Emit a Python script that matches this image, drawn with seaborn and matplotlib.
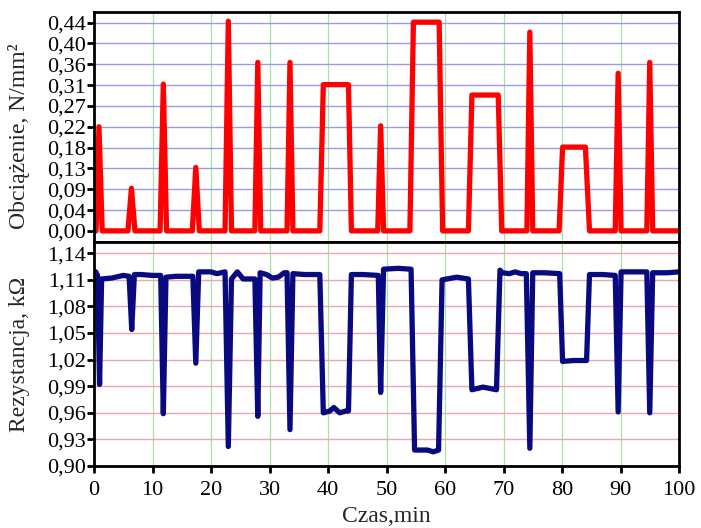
import numpy as np
import pandas as pd
import matplotlib
matplotlib.use("Agg")
import matplotlib.pyplot as plt
import seaborn as sns

# ---- data ----
t_load = [0, 0.35, 0.85, 1.4, 5.8, 6.4, 7.0, 11.3, 11.85, 12.4, 16.8, 17.4, 18.0,
          22.4, 22.96, 23.5, 27.5, 28.0, 28.5, 33.0, 33.5, 34.0, 38.6, 39.2, 43.5,
          44.0, 48.5, 49.0, 49.5, 54.0, 54.6, 59.0, 59.6, 64.0, 64.6, 69.1, 69.7,
          74.0, 74.5, 75.0, 79.5, 80.1, 84.0, 84.7, 89.1, 89.6, 90.1, 94.5, 95.0,
          95.5, 100]
load = [0, 0, 0.22, 0, 0, 0.09, 0, 0, 0.31, 0, 0, 0.134, 0,
        0, 0.443, 0, 0, 0.356, 0, 0, 0.356, 0, 0, 0.309, 0.309,
        0, 0, 0.222, 0, 0, 0.441, 0.441, 0, 0, 0.287, 0.287, 0,
        0, 0.42, 0, 0, 0.177, 0.177, 0, 0, 0.333, 0, 0, 0.356,
        0, 0]

t_res = [0.3, 0.6, 0.95, 1.3, 3, 5, 6.0, 6.45, 6.9, 8, 10, 11.4, 11.85, 12.3, 14,
         16.9, 17.4, 17.9, 20, 21, 22.4, 22.96, 23.5, 24.5, 25.5, 27.5, 28.0, 28.4,
         29.5, 30.5, 31.5, 32.5, 33.0, 33.5, 34.0, 36, 38.6, 39.2, 40.3, 41.0, 42.0,
         43.0, 43.5, 44.0, 46, 48.6, 49.0, 49.5, 52, 54.2, 54.8, 57, 58.0, 58.9,
         59.5, 62.0, 64.0, 64.6, 66.5, 68.8, 69.4, 69.8, 71, 72.0, 73.0, 73.9, 74.5,
         75.0, 77, 79.6, 80.1, 82, 84.2, 84.7, 87, 89.1, 89.6, 90.1, 92, 94.5, 95.0,
         95.5, 98, 100]
res = [1.119, 1.115, 0.992, 1.111, 1.112, 1.115, 1.114, 1.054, 1.116, 1.116, 1.115,
       1.115, 0.959, 1.113, 1.114, 1.114, 1.016, 1.119, 1.119, 1.117, 1.119, 0.922,
       1.111, 1.119, 1.111, 1.111, 0.956, 1.118, 1.116, 1.112, 1.113, 1.118, 1.118,
       0.941, 1.117, 1.116, 1.116, 0.960, 0.962, 0.966, 0.960, 0.962, 0.962, 1.116,
       1.116, 1.115, 0.983, 1.122, 1.123, 1.122, 0.918, 0.918, 0.916, 0.918, 1.110,
       1.113, 1.111, 0.986, 0.989, 0.986, 1.121, 1.118, 1.117, 1.119, 1.117, 1.117,
       0.920, 1.118, 1.118, 1.117, 1.018, 1.019, 1.019, 1.116, 1.116, 1.115, 0.961,
       1.119, 1.119, 1.119, 0.960, 1.118, 1.118, 1.119]

load_ticks = [0.0, 0.044, 0.088, 0.132, 0.176, 0.22, 0.264, 0.308, 0.352, 0.396, 0.44]
load_labels = ["0,00", "0,04", "0,09", "0,13", "0,18", "0,22", "0,27", "0,31",
               "0,36", "0,40", "0,44"]
res_ticks = [0.90, 0.93, 0.96, 0.99, 1.02, 1.05, 1.08, 1.11, 1.14]
res_labels = ["0,90", "0,93", "0,96", "0,99", "1,02", "1,05", "1,08", "1,11", "1,14"]
x_ticks = [0, 10, 20, 30, 40, 50, 60, 70, 80, 90, 100]

df_load = pd.DataFrame({"t": t_load, "v": load})
df_res = pd.DataFrame({"t": t_res, "v": res})

sns.set_theme(style="ticks")
plt.rcParams["font.family"] = ["Liberation Serif", "DejaVu Serif"]
plt.rcParams["axes.linewidth"] = 2.0

fig = plt.figure(figsize=(7.01, 5.28), dpi=100)
W, H = 701, 528
L, R = 94, 679
ax1 = fig.add_axes([L / W, 1 - 242 / H, (R - L) / W, (242 - 12) / H])
ax2 = fig.add_axes([L / W, 1 - 466 / H, (R - L) / W, (466 - 242) / H])

sns.lineplot(data=df_load, x="t", y="v", ax=ax1, color="#ff0000", linewidth=3.8,
             sort=False, estimator=None)
sns.lineplot(data=df_res, x="t", y="v", ax=ax2, color="#0a0a80", linewidth=3.8,
             sort=False, estimator=None)

for ax in (ax1, ax2):
    ax.set_xlim(0, 100)
    ax.set_xticks(x_ticks)
    for x in x_ticks[1:-1]:
        ax.axvline(x, color="#a8e0a8", linewidth=0.9, zorder=0)
    for s in ax.spines.values():
        s.set_color("black")
        s.set_linewidth(2.0)
    ax.tick_params(axis="both", direction="out", length=5, width=2, labelsize=16,
                   colors="black", pad=1)

ax1.set_ylim(-0.0235, 0.4625)
ax1.set_yticks(load_ticks)
ax1.set_yticklabels(load_labels)
for y in load_ticks[1:]:
    ax1.axhline(y, color="#9a9ae6", linewidth=1.0, zorder=0)
ax1.tick_params(axis="x", length=0, labelbottom=False)
ax1.set_xlabel("")
ax1.set_ylabel("Obciążenie, N/mm²", fontsize=17)
ax1.yaxis.set_label_coords(-0.11, 0.46)

ax2.set_ylim(0.90, 1.1527)
ax2.set_yticks(res_ticks)
ax2.set_yticklabels(res_labels)
for y in res_ticks[1:]:
    ax2.axhline(y, color="#e8a8b0", linewidth=1.0, zorder=0)
ax2.set_xticklabels([str(x) for x in x_ticks])
ax2.tick_params(axis="x", pad=6)
ax2.set_xlabel("Czas,min", fontsize=17, labelpad=4)
ax2.set_ylabel("Rezystancja, kΩ", fontsize=17)
ax2.yaxis.set_label_coords(-0.11, 0.5)

fig.savefig("out.png", dpi=100)
